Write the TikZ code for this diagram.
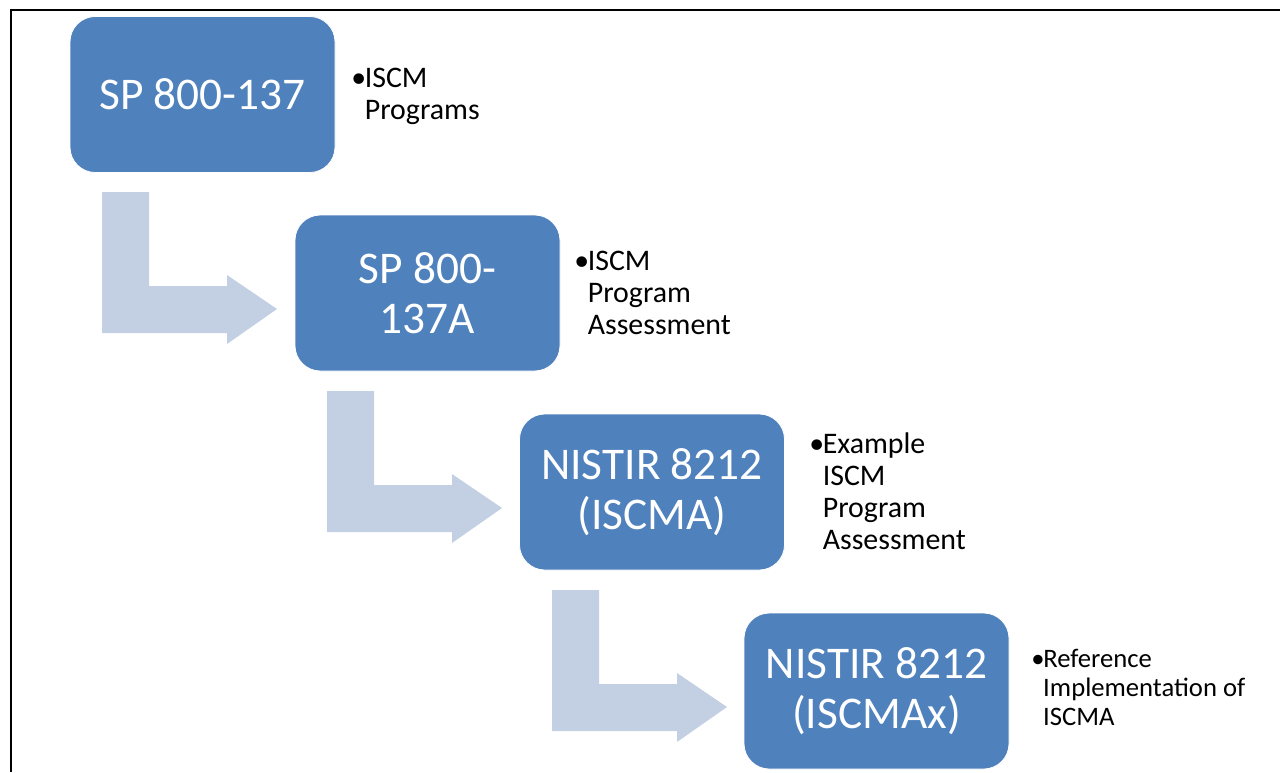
\documentclass[tikz,border=0pt]{standalone}
\usepackage{fontspec}
\setmainfont{Carlito}
\begin{document}
\begin{tikzpicture}[x=0.75pt,y=-0.75pt,
  box/.style={draw=white,line width=0.6pt,fill=boxblue,rounded corners=19pt,
    minimum width=198.75pt,minimum height=117pt,inner sep=0pt,text=white,
    align=center,font=\fontsize{34}{37.5}\selectfont},
  desc/.style={anchor=west,inner sep=0pt,text=black},
  bent/.style={fill=arrowblue,draw=none}]
\definecolor{boxblue}{HTML}{4F81BD}
\definecolor{arrowblue}{HTML}{C3CFE3}
\useasboundingbox (0,0) rectangle (1280,772);
% frame lines
\draw[line width=1.5pt] (11,772) -- (11,10) -- (1280,10);
% bent arrows
\foreach \i in {0,1,2}{
  \begin{scope}[shift={({225*\i*0.75pt},{-199*\i*0.75pt})}]
    \fill[arrowblue] (102,192) -- (149,192) -- (149,286) -- (227,286) -- (227,275)
      -- (277,309) -- (227,344) -- (227,333) -- (102,333) -- cycle;
  \end{scope}
}
% boxes
\node[box] (b1) at (202.5,94.5) {SP 800-137};
\node[box] (b2) at (427.5,293) {SP 800-\\137A};
\node[box] (b3) at (652,492) {NISTIR 8212\\(ISCMA)};
\node[box] (b4) at (876.5,691) {NISTIR 8212\\(ISCMAx)};
% descriptions
\node[desc,font=\fontsize{22.4}{24}\selectfont] (d1) at (351,97)
  {\textbullet\kern-1pt\begin{tabular}[t]{@{}l@{}}ISCM\\Programs\end{tabular}};
\node[desc,font=\fontsize{22.4}{24}\selectfont] (d2) at (574,296)
  {\textbullet\kern-1pt\begin{tabular}[t]{@{}l@{}}ISCM\\Program\\Assessment\end{tabular}};
\node[desc,font=\fontsize{22.4}{24}\selectfont] (d3) at (809,495)
  {\textbullet\kern-1pt\begin{tabular}[t]{@{}l@{}}Example\\ISCM\\Program\\Assessment\end{tabular}};
\node[desc,font=\fontsize{20}{21.75}\selectfont] (d4) at (1031,691)
  {\textbullet\kern-1pt\begin{tabular}[t]{@{}l@{}}Reference\\Implementation of\\ISCMA\end{tabular}};
\end{tikzpicture}
\end{document}
